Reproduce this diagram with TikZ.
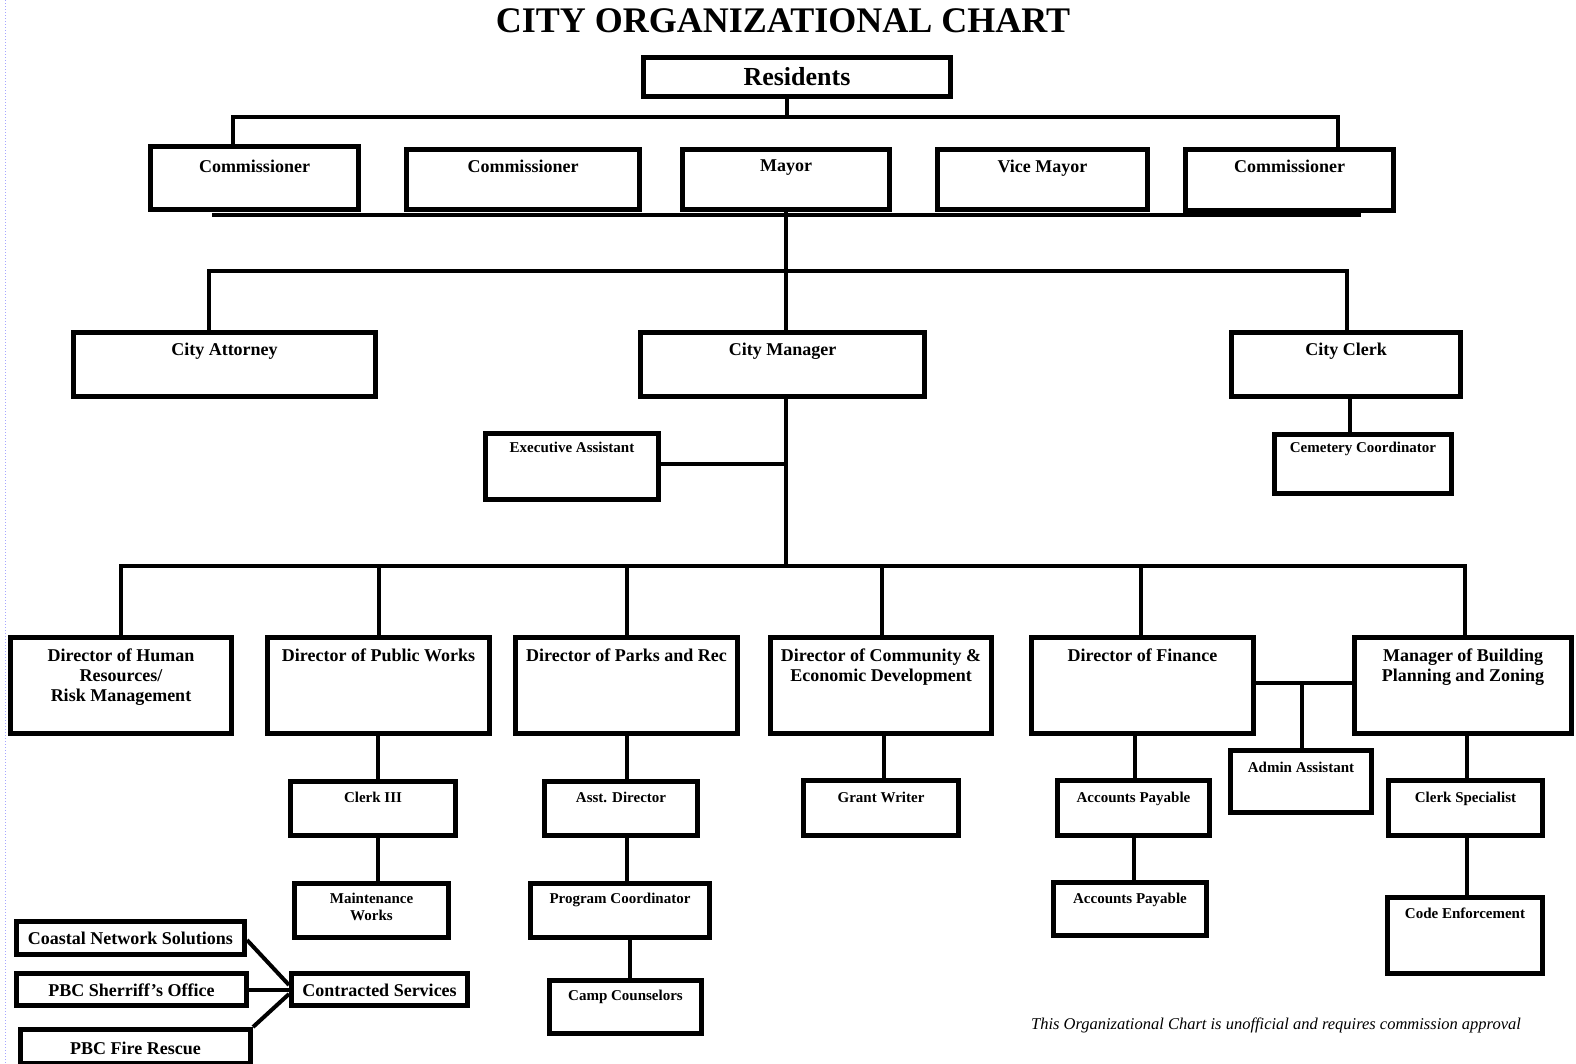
\documentclass[tikz,border=0pt]{standalone}
\usepackage{fontspec}
\setmainfont{Liberation Serif}
\usetikzlibrary{calc}
\tikzset{
 box/.style={draw, line width=5pt, rectangle, inner sep=0pt, fill=white},
 lab/.style={inner sep=0pt, align=center},
 con/.style={line width=4pt},
 f18/.style={font=\bfseries\fontsize{18}{20}\selectfont},
 f15/.style={font=\bfseries\fontsize{15}{17}\selectfont},
 f26/.style={font=\bfseries\fontsize{26}{28}\selectfont},
}
% name, x1, y1, x2, y2, text top y, font style, text
\newcommand\obox[8]{%
  \node[box, minimum width={#4pt-#2pt-5pt}, minimum height={#5pt-#3pt-5pt}] (#1) at ({(#2+#4)/2},{(#3+#5)/2}) {};
  \node[lab, #7, anchor=north] (#1-t) at ({(#2+#4)/2},#6) {#8};}
\begin{document}
\begin{tikzpicture}[x=1pt,y=-1pt]
\useasboundingbox (0,0) rectangle (1576,1063);
\fill[white] (0,0) rectangle (1576,1063);
\draw[blue!35, dotted, line width=1pt] (5,0) -- (5,1063);

\node[font=\bfseries\fontsize{36}{38}\selectfont, inner sep=0pt] (title) at (783,21) {CITY ORGANIZATIONAL CHART};

% --- boxes
\node[box, minimum width={307pt}, minimum height={39pt}] (res) at (797,77) {};
\node[lab, f26] (res-t) at (797,77) {Residents};

\obox{c1}{148}{144}{361}{212}{160}{f18}{Commissioner}
\obox{c2}{404}{147}{642}{212}{160}{f18}{Commissioner}
\obox{mayor}{680}{147}{892}{212}{160}{f18}{Mayor}
\obox{vmayor}{935}{147}{1150}{212}{160}{f18}{Vice Mayor}
\obox{c5}{1183}{147}{1396}{213}{160}{f18}{Commissioner}

\obox{attorney}{71}{330}{378}{399}{343}{f18}{City Attorney}
\obox{manager}{638}{330}{927}{399}{343}{f18}{City Manager}
\obox{clerk}{1229}{330}{1463}{399}{343}{f18}{City Clerk}

\obox{exec}{483}{431}{661}{502}{442}{f15}{Executive Assistant}
\obox{cemetery}{1272}{432}{1454}{496}{442}{f15}{Cemetery Coordinator}

\obox{hr}{8}{635}{234}{736}{649}{f18}{Director of Human\\Resources/\\Risk Management}
\obox{pw}{265}{635}{492}{736}{649}{f18}{Director of Public Works}
\obox{parks}{513}{635}{740}{736}{649}{f18}{Director of Parks and Rec}
\obox{comm}{768}{635}{994}{736}{649}{f18}{Director of Community \&\\Economic Development}
\obox{fin}{1029}{635}{1256}{736}{649}{f18}{Director of Finance}
\obox{mb}{1352}{635}{1574}{736}{649}{f18}{Manager of Building\\Planning and Zoning}

\obox{clerk3}{288}{779}{458}{838}{792}{f15}{Clerk III}
\obox{asst}{542}{779}{700}{838}{792}{f15}{Asst. Director}
\obox{grant}{801}{778}{961}{838}{792}{f15}{Grant Writer}
\obox{ap1}{1055}{778}{1212}{838}{792}{f15}{Accounts Payable}
\obox{admin}{1228}{748}{1374}{815}{762}{f15}{Admin Assistant}
\obox{clerkspec}{1386}{778}{1545}{838}{792}{f15}{Clerk Specialist}

\obox{maint}{292}{881}{451}{940}{893}{f15}{Maintenance\\Works}
\obox{progc}{528}{881}{712}{940}{893}{f15}{Program Coordinator}
\obox{camp}{547}{978}{704}{1036}{990}{f15}{Camp Counselors}
\obox{ap2}{1051}{880}{1209}{938}{893}{f15}{Accounts Payable}
\obox{code}{1385}{895}{1545}{976}{908}{f15}{Code Enforcement}

\obox{coastal}{14}{919}{247}{957}{932}{f18}{Coastal Network Solutions}
\obox{sheriff}{14}{971}{249}{1008}{984}{f18}{PBC Sherriff’s Office}
\obox{fire}{18}{1027}{253}{1066}{1042}{f18}{PBC Fire Rescue}
\obox{contracted}{289}{971}{470}{1008}{984}{f18}{Contracted Services}

\node[font=\itshape\fontsize{16.5}{18}\selectfont, inner sep=0pt] (note) at (1276,1025)
  {This Organizational Chart is unofficial and requires commission approval};

% --- connectors
\coordinate (rj) at (787,117);
\draw[con] (res.south -| rj) -- (rj);
\draw[con] (c1.north -| 233,0) |- (rj) -| (c5.north -| 1338,0);

\coordinate (cbL) at (212,215);
\coordinate (cbR) at (1361,215);
\draw[con] (cbL) -- (cbR);

\coordinate (mj) at (786,271);
\draw[con] (mayor.south -| mj) -- (manager.north -| mj);
\draw[con] (attorney.north -| 209,0) |- (mj) -| (clerk.north -| 1347,0);

\coordinate (dj) at (786,566);
\draw[con] (manager.south -| dj) -- (dj);
\coordinate (ej) at (786,464);
\draw[con] (exec.east |- ej) -- (ej);
\draw[con] (clerk.south -| 1350,0) -- (cemetery.north -| 1350,0);

\draw[con] (hr.north -| 121,0) |- (dj) -| (mb.north -| 1465,0);
\draw[con] (pw.north -| 379,0) -- (dj -| 379,0);
\draw[con] (parks.north -| 627,0) -- (dj -| 627,0);
\draw[con] (comm.north -| 882,0) -- (dj -| 882,0);
\draw[con] (fin.north -| 1141,0) -- (dj -| 1141,0);

\draw[con] (pw.south -| 378,0) -- (clerk3.north -| 378,0);
\draw[con] (clerk3.south -| 378,0) -- (maint.north -| 378,0);
\draw[con] (parks.south -| 627,0) -- (asst.north -| 627,0);
\draw[con] (asst.south -| 627,0) -- (progc.north -| 627,0);
\draw[con] (progc.south -| 630,0) -- (camp.north -| 630,0);
\draw[con] (comm.south -| 884,0) -- (grant.north -| 884,0);
\draw[con] (fin.south -| 1135,0) -- (ap1.north -| 1135,0);
\draw[con] (ap1.south -| 1134,0) -- (ap2.north -| 1134,0);
\coordinate (aj) at (1302,683);
\draw[con] (fin.east |- aj) -- (mb.west |- aj);
\draw[con] (aj) -- (admin.north -| aj);
\draw[con] (mb.south -| 1467,0) -- (clerkspec.north -| 1467,0);
\draw[con] (clerkspec.south -| 1467,0) -- (code.north -| 1467,0);

\draw[con] (coastal.east |- 0,940) -- (contracted.west |- 0,985);
\draw[con] (sheriff.east) -- (contracted.west |- sheriff.east);
\draw[con] (fire.north east) -- (contracted.west |- 0,994);
\end{tikzpicture}
\end{document}
